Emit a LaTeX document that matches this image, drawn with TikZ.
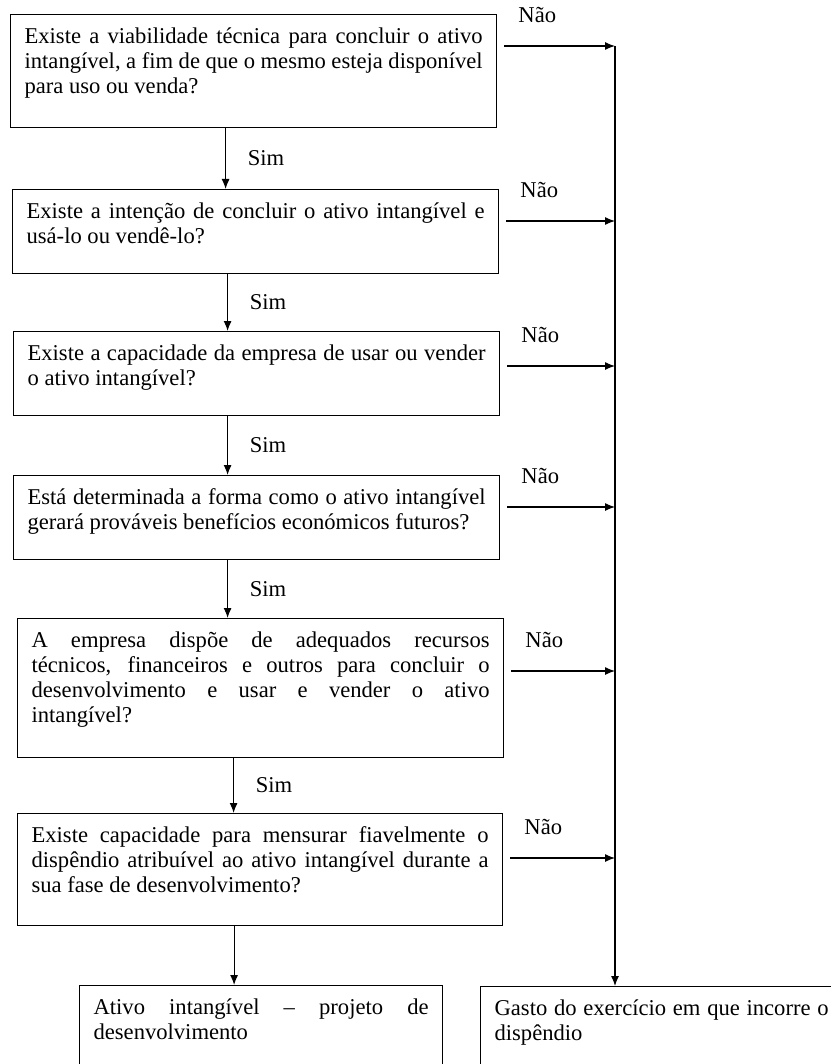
\documentclass[tikz,border=0pt]{standalone}
\usepackage{fontspec}
\setmainfont{Liberation Serif}
\usetikzlibrary{arrows.meta}

\hyphenpenalty=10000
\tolerance=9999
\newcommand{\boxtext}[3]{\parbox[t][#2][t]{#1}{\strut #3}}

\begin{document}
\begin{tikzpicture}[
    x=0.5pt,y=-0.5pt,
    font=\fontsize{11.3}{12.5}\selectfont,
    qbox/.style={
      draw,line width=0.6pt,anchor=north west,
      inner xsep=7pt,inner ysep=5.5pt
    },
    flow/.style={
      draw,line width=0.6pt,-{Latex[length=5pt,width=4pt]}
    },
    sim/.style={
      midway,anchor=west,xshift=7.5pt
    },
    nao/.style={
      pos=0,anchor=south west,xshift=3.5pt,yshift=8pt
    }]
  \useasboundingbox (0,0) rectangle (830,1064);

  % questions
  \node[qbox] (b1) at (10,14) {\boxtext{229pt}{45.5pt}{Existe a viabilidade técnica para concluir o ativo\linebreak
    intangível, a fim de que o mesmo esteja disponível\linebreak para uso ou venda?}};
  \node[qbox] (b2) at (12,189) {\boxtext{229pt}{31pt}{Existe a intenção de concluir o ativo intangível e\linebreak
    usá-lo ou vendê-lo?}};
  \node[qbox] (b3) at (13,331) {\boxtext{229pt}{31pt}{Existe a capacidade da empresa de usar ou vender\linebreak
    o ativo intangível?}};
  \node[qbox] (b4) at (13,475) {\boxtext{229pt}{31pt}{Está determinada a forma como o ativo intangível\linebreak
    gerará prováveis benefícios económicos futuros?}};
  \node[qbox] (b5) at (17,618) {\boxtext{229pt}{58.5pt}{A empresa dispõe de adequados recursos\linebreak
    técnicos, financeiros e outros para concluir o\linebreak
    desenvolvimento e usar e vender o ativo\linebreak intangível?}};
  \node[qbox] (b6) at (17,813) {\boxtext{228.5pt}{45pt}{Existe capacidade para mensurar fiavelmente o\linebreak
    dispêndio atribuível ao ativo intangível durante a\linebreak sua fase de desenvolvimento?}};

  % results
  \node[qbox] (b7) at (79,985) {\boxtext{167.5pt}{60pt}{Ativo intangível – projeto de\linebreak desenvolvimento}};
  \node[qbox] (b8) at (480,986) {\boxtext{167pt}{60pt}{Gasto do exercício em que incorre o\linebreak dispêndio}};

  % yes
  \draw[flow] ([xshift=-14pt]b1.south) -- ([xshift=-14pt]b1.south |- b2.north) node[sim] {Sim};
  \draw[flow] ([xshift=-14pt]b2.south) -- ([xshift=-14pt]b2.south |- b3.north) node[sim] {Sim};
  \draw[flow] ([xshift=-14.5pt]b3.south) -- ([xshift=-14.5pt]b3.south |- b4.north) node[sim] {Sim};
  \draw[flow] ([xshift=-14.5pt]b4.south) -- ([xshift=-14.5pt]b4.south |- b5.north) node[sim] {Sim};
  \draw[flow] ([xshift=-13.5pt]b5.south) -- ([xshift=-13.5pt]b5.south |- b6.north) node[sim] {Sim};
  \draw[flow] ([xshift=-13pt]b6.south) -- ([xshift=-13pt]b6.south |- b7.north);

  % no
  \coordinate (spine) at (615,46);
  \foreach \q/\dy in {b1/16pt,b2/16pt,b3/17.5pt,b4/16pt,b5/26.5pt,b6/22.5pt} {
    \coordinate (n\q) at ([xshift=3.5pt,yshift=-\dy]\q.north east);
    \draw[flow] (n\q) -- (n\q -| spine) node[nao] {Não};
  }
  \draw[flow] (spine) -- (spine |- b8.north);
\end{tikzpicture}
\end{document}
